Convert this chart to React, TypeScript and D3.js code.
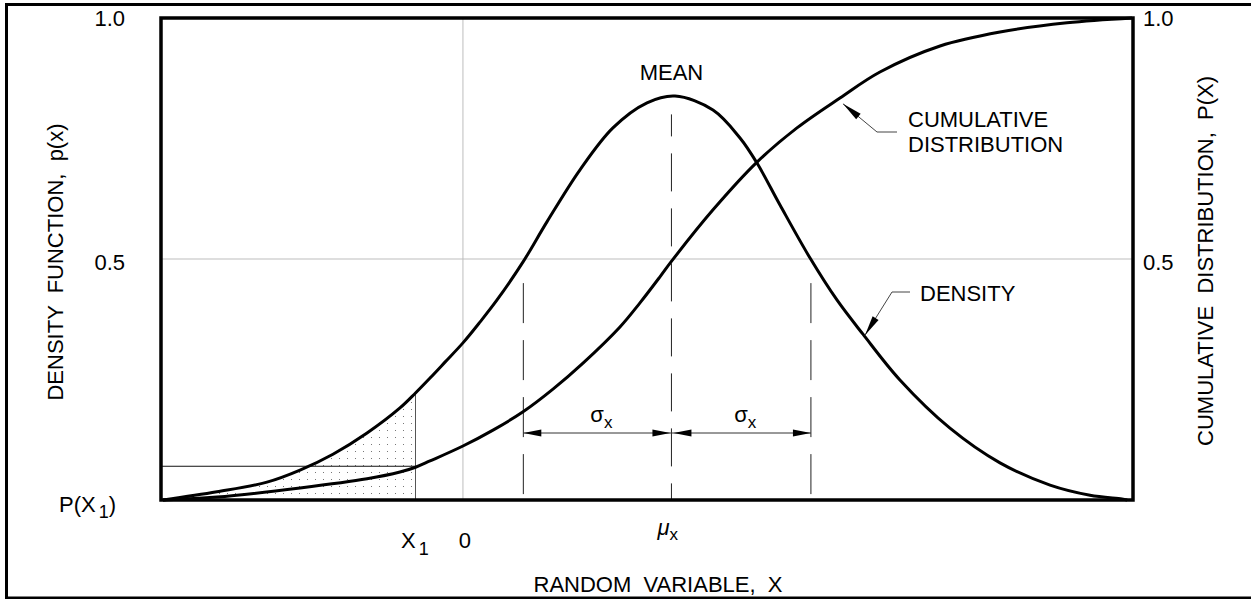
import React from 'react';
import * as d3 from 'd3';

// density curve p(x) (x in units of the random variable)
const densityX = [-2.086, -1.711, -1.363, -1.133, -0.904, -0.667, -0.438, -0.33, -0.229, -0.125, 0.0, 0.118, 0.237, 0.418, 0.584, 0.814, 1.043, 1.28, 1.475, 1.739, 1.927, 2.045, 2.205, 2.414, 2.601, 2.782, 3.039, 3.387, 3.735, 4.083, 4.361, 4.583, 4.62];
const densityY = [0, 0.017, 0.037, 0.062, 0.095, 0.139, 0.191, 0.222, 0.253, 0.286, 0.326, 0.369, 0.415, 0.494, 0.577, 0.685, 0.772, 0.824, 0.838, 0.809, 0.751, 0.699, 0.612, 0.502, 0.415, 0.344, 0.249, 0.149, 0.077, 0.031, 0.01, 0.002, 0];

// cumulative distribution P(x)
const cumulativeX = [-2.086, -1.711, -1.133, -0.667, -0.438, -0.33, -0.229, 0.0, 0.209, 0.418, 0.626, 0.835, 1.092, 1.231, 1.37, 1.447, 1.739, 2.045, 2.323, 2.622, 2.9, 3.318, 3.735, 4.201, 4.653];
const cumulativeY = [0, 0.006, 0.025, 0.044, 0.058, 0.068, 0.081, 0.112, 0.145, 0.183, 0.23, 0.284, 0.359, 0.409, 0.463, 0.494, 0.602, 0.701, 0.772, 0.834, 0.888, 0.942, 0.971, 0.99, 1.0];

const yTicks = [1.0, 0.5];
const meanX = 1.45;
const sigmaLines = [0.42, 2.42];
const x1 = -0.33;
const pX1 = 0.07;
const sigmaArrowY = 0.139;

const W = 1251;
const H = 599;
const FONT = '"Liberation Sans", Arial, sans-serif';

const xScale = d3.scaleLinear().domain([-2.1, 4.66]).range([161, 1133]);
const yScale = d3.scaleLinear().domain([0, 1]).range([500, 18]);

const density = densityX.map((x, i) => [x, densityY[i]] as [number, number]);
const cumulative = cumulativeX.map((x, i) => [x, cumulativeY[i]] as [number, number]);

const curve = d3.curveCatmullRom.alpha(0.5);

const line = d3.line<[number, number]>()
  .x(d => xScale(d[0]))
  .y(d => yScale(d[1]))
  .curve(curve);

const shade = d3.area<[number, number]>()
  .x(d => xScale(d[0]))
  .y0(yScale(0))
  .y1(d => yScale(d[1]))
  .curve(curve);

const density1 = densityY[densityX.indexOf(x1)];

// filled arrow head with its point at (tx,ty), pointing away from (fx,fy)
function arrowHead(tx: number, ty: number, fx: number, fy: number, len = 18, half = 3.5) {
  const dx = fx - tx, dy = fy - ty;
  const n = Math.hypot(dx, dy);
  const ux = dx / n, uy = dy / n;
  const bx = tx + ux * len, by = ty + uy * len;
  return `${tx},${ty} ${bx - uy * half},${by + ux * half} ${bx + uy * half},${by - ux * half}`;
}

const App = () => {
  const y0 = yScale(0);
  const yA = yScale(sigmaArrowY);
  const xm = xScale(meanX);
  const xl = xScale(sigmaLines[0]);
  const xr = xScale(sigmaLines[1]);
  const [left, right] = xScale.range();

  // leader tips on the curves
  const cumTip = [xScale(2.643), yScale(0.822)];
  const denTip = [xScale(2.796), yScale(0.342)];

  return (
    <svg width={W} height={H} style={{ position: 'absolute', left: 0, top: 0, background: '#fff' }}
      fontFamily={FONT} fontSize={22}>
      <defs>
        <pattern id="dots" width={8} height={7} patternUnits="userSpaceOnUse">
          <rect x={3} y={3} width={1} height={1} fill="#777" />
        </pattern>
        <clipPath id="toX1">
          <rect x={left} y={0} width={xScale(x1) - left} height={H} />
        </clipPath>
      </defs>

      <rect x={6.5} y={4.5} width={1250} height={593.5} fill="none" stroke="#000" strokeWidth={3} />

      {/* grid */}
      <line x1={left} x2={right} y1={yScale(0.5)} y2={yScale(0.5)} stroke="#bdbdbd" strokeWidth={1} />
      <line x1={xScale(0)} x2={xScale(0)} y1={yScale(1)} y2={y0} stroke="#bdbdbd" strokeWidth={1} />

      {/* shaded area under density up to X1 */}
      <path d={shade(density) || ''} fill="url(#dots)" clipPath="url(#toX1)" />
      <line x1={xScale(x1)} x2={xScale(x1)} y1={yScale(density1)} y2={y0} stroke="#555" strokeWidth={1} />
      <line x1={left} x2={xScale(x1)} y1={yScale(pX1)} y2={yScale(pX1)} stroke="#111" strokeWidth={1} />

      {/* mean and sigma lines */}
      <line x1={xm} x2={xm} y1={yScale(0.8)} y2={y0} stroke="#222" strokeWidth={1} strokeDasharray="38 17" strokeDashoffset={16} />
      {sigmaLines.map((s, i) => (
        <line key={i} x1={xScale(s)} x2={xScale(s)} y1={yScale(0.45)} y2={y0} stroke="#222" strokeWidth={1} strokeDasharray="40 17" />
      ))}

      {/* sigma dimension arrows */}
      <line x1={xl} x2={xr} y1={yA} y2={yA} stroke="#333" strokeWidth={1} />
      <polygon points={arrowHead(xl, yA, xl + 1, yA)} fill="#000" />
      <polygon points={arrowHead(xm - 1, yA, xm - 2, yA)} fill="#000" />
      <polygon points={arrowHead(xm + 2, yA, xm + 3, yA)} fill="#000" />
      <polygon points={arrowHead(xr, yA, xr - 1, yA)} fill="#000" />
      {[(xl + xm) / 2, (xm + xr) / 2].map((cx, i) => (
        <text key={i} x={cx + 4} y={yA - 11} textAnchor="middle">
          σ<tspan fontSize={17} dy={6}>x</tspan>
        </text>
      ))}

      {/* curves */}
      <path d={line(cumulative) || ''} fill="none" stroke="#000" strokeWidth={3} strokeLinejoin="round" />
      <path d={line(density) || ''} fill="none" stroke="#000" strokeWidth={3} strokeLinejoin="round" />

      {/* plot frame */}
      <rect x={left} y={yScale(1)} width={right - left} height={y0 - yScale(1)}
        fill="none" stroke="#000" strokeWidth={3.5} />

      {/* y tick labels, both sides */}
      {yTicks.map(t => (
        <g key={t}>
          <text x={125} y={yScale(t) + (t === 1 ? 8 : 11)} textAnchor="end">{d3.format('.1f')(t)}</text>
          <text x={1143} y={yScale(t) + (t === 1 ? 8 : 11)}>{d3.format('.1f')(t)}</text>
        </g>
      ))}
      <text x={59} y={512}>P(X<tspan fontSize={18} dx={3} dy={6}>1</tspan><tspan dy={-6}>)</tspan></text>

      {/* x labels */}
      <text x={401} y={548}>X<tspan fontSize={18} dx={3} dy={7}>1</tspan></text>
      <text x={xScale(0) + 2} y={548} textAnchor="middle">0</text>
      <text x={xm - 14} y={535} fontStyle="italic">μ<tspan fontSize={17} fontStyle="normal" dy={5}>x</tspan></text>
      <text x={658} y={592} textAnchor="middle" xmlSpace="preserve">RANDOM  VARIABLE,  X</text>

      {/* axis titles */}
      <text transform="translate(63,262) rotate(-90)" textAnchor="middle" xmlSpace="preserve">DENSITY  FUNCTION,  p(x)</text>
      <text transform="translate(1213,261) rotate(-90)" textAnchor="middle" xmlSpace="preserve">CUMULATIVE  DISTRIBUTION,  P(X)</text>

      {/* annotations */}
      <text x={xm} y={80} textAnchor="middle">MEAN</text>

      <polyline points={`897,132 877,132 ${cumTip[0]},${cumTip[1]}`} fill="none" stroke="#444" strokeWidth={1} />
      <polygon points={arrowHead(cumTip[0], cumTip[1], 877, 132, 20, 3.5)} fill="#000" />
      <text x={908} y={127}>CUMULATIVE</text>
      <text x={908} y={152}>DISTRIBUTION</text>

      <polyline points={`910,292 892,292 ${denTip[0]},${denTip[1]}`} fill="none" stroke="#444" strokeWidth={1} />
      <polygon points={arrowHead(denTip[0], denTip[1], 892, 292, 20, 3.5)} fill="#000" />
      <text x={920} y={301}>DENSITY</text>
    </svg>
  );
};

export default App;
